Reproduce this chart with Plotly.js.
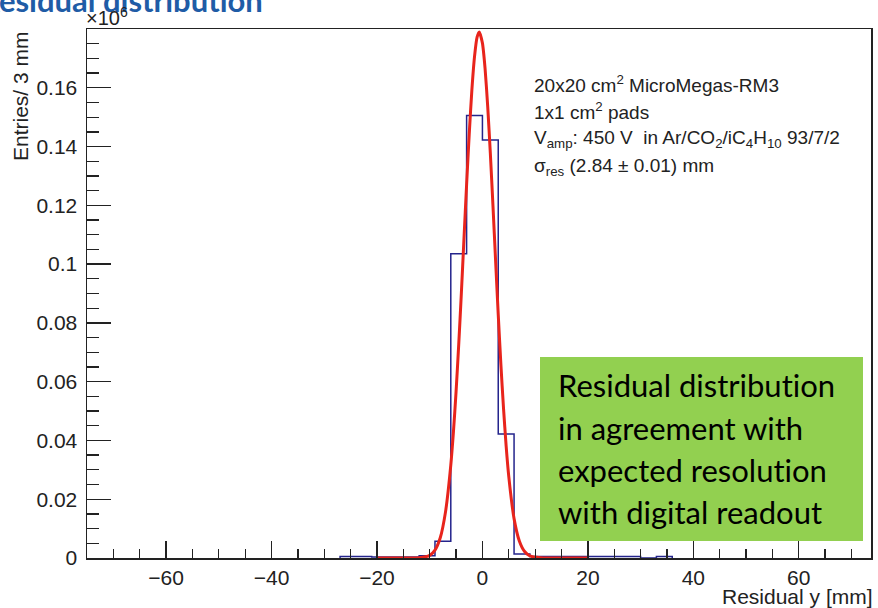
<!DOCTYPE html>
<html><head><meta charset="utf-8">
<script src="https://cdn.plot.ly/plotly-3.0.1.min.js"></script>
<style>html,body{margin:0;padding:0;background:#fff}#chart{width:878px;height:608px}svg text{font-variant-ligatures:none;font-feature-settings:"liga" 0}</style>
</head><body><div id="chart"></div>
<script>
// Histogram: 3 mm bins, first bin starts at -27 mm (values in units of 10^6 entries)
const binStart = -27;
const binWidth = 3;
const binCounts = [0.0005,0.0005,0.0003,0.0003,0.0003,0.0008,0.0057,0.1035,0.1506,0.1422,0.0422,0.0014,0.0005,0.0005,0.0005,0.0005,0.0005,0.0005,0.0005,0,0.0005];

// Gaussian fit curve
const fitX = [-20,-12,-10,-9,-8,-7,-6,-5.5,-5,-4.5,-4,-3.5,-3,-2.5,-2,-1.5,-1,-0.6,0,0.5,1,1.5,2,2.5,3,3.5,4,4.5,5,6,7,8,9,11,20];
const fitY = [0,0.0001,0.0009,0.0027,0.0069,0.0157,0.0316,0.0429,0.0566,0.0725,0.0900,0.1086,0.1271,0.1444,0.1593,0.1706,0.1773,0.1790,0.1752,0.1666,0.1537,0.1377,0.1198,0.1011,0.0828,0.0659,0.0509,0.0381,0.0277,0.0134,0.0058,0.0022,0.0007,0.0001,0];

const xTickVals = [-60,-40,-20,0,20,40,60];
const yTickVals = [0,0.02,0.04,0.06,0.08,0.1,0.12,0.14,0.16];

const infoLines = [
  "20x20 cm<sup>2</sup> MicroMegas-RM3",
  "1x1 cm<sup>2</sup> pads",
  "V<sub>amp</sub>: 450 V  in Ar/CO<sub>2</sub>/iC<sub>4</sub>H<sub>10</sub> 93/7/2",
  "σ<sub>res</sub> (2.84 ± 0.01) mm"
];
const boxLines = ["Residual distribution","in agreement with","expected resolution","with digital readout"];

// build step outline
const hx = [binStart], hy = [0];
for (let i = 0; i < binCounts.length; i++) { hx.push(binStart + i*binWidth); hy.push(binCounts[i]); }
hx.push(binStart + binCounts.length*binWidth); hy.push(binCounts[binCounts.length-1]);
hx.push(binStart + binCounts.length*binWidth); hy.push(0);

const traces = [
  {x: hx, y: hy, type:'scatter', mode:'lines', line:{shape:'hv', color:'#24248c', width:1.5}, hoverinfo:'skip'},
  {x: fitX, y: fitY, type:'scatter', mode:'lines', line:{color:'#e8241c', width:3, shape:'spline', smoothing:0.6}, hoverinfo:'skip'}
];

const F = 'Liberation Sans, Arial, Helvetica, sans-serif';
const axCol = '#222';
const annotations = [];
const infoY = [84, 111, 139, 167];
infoLines.forEach((t,i)=>annotations.push({text:t, xref:'paper', yref:'paper', x:(532-87)/784, y:(558-infoY[i])/529, xanchor:'left', yanchor:'middle', showarrow:false, font:{family:F, size:19, color:'#222'}}));
const boxY = [385, 428, 470, 512];
boxLines.forEach((t,i)=>annotations.push({text:t, xref:'paper', yref:'paper', x:(556-87)/784, y:(558-boxY[i])/529, xanchor:'left', yanchor:'middle', showarrow:false, font:{family:'Lato, Carlito, sans-serif', size:31, color:'#000'}}));
annotations.push({text:'<b>Residual distribution</b>', xref:'paper', yref:'paper', x:(265-87)/784, y:(558-21)/529, xanchor:'right', yanchor:'bottom', showarrow:false, font:{family:'Lato, sans-serif', size:31, color:'#1f5ca6'}});
annotations.push({text:'×10<sup>6</sup>', xref:'paper', yref:'paper', x:(84-87)/784, y:(558-31)/529, xanchor:'left', yanchor:'bottom', showarrow:false, font:{family:F, size:20, color:'#222'}});
annotations.push({text:'Entries/ 3 mm', textangle:-90, xref:'paper', yref:'paper', x:(20-87)/784, y:(558-29)/529, xanchor:'center', yanchor:'top', showarrow:false, font:{family:F, size:21, color:'#222'}});
annotations.push({text:'Residual y [mm]', xref:'paper', yref:'paper', x:(875-87)/784, y:(558-583)/529, xanchor:'right', yanchor:'top', showarrow:false, font:{family:F, size:21, color:'#222'}});

const layout = {
  width:878, height:608,
  margin:{l:87, r:7, t:29, b:50, pad:0},
  paper_bgcolor:'#fff', plot_bgcolor:'#fff',
  showlegend:false,
  xaxis:{range:[-75,73.7], tickvals:xTickVals, ticks:'inside', ticklen:17, tickwidth:1.3, tickcolor:axCol,
    showline:true, linecolor:axCol, linewidth:1.5, mirror:true, showgrid:false, zeroline:false,
    tickfont:{family:F, size:21, color:axCol}, ticklabelstandoff:0,
    minor:{dtick:5, tick0:0, ticks:'inside', ticklen:9, tickwidth:1.3, tickcolor:axCol, showgrid:false}},
  yaxis:{range:[0,0.18], tickvals:yTickVals, ticks:'inside', ticklen:24, tickwidth:1.3, tickcolor:axCol,
    showline:true, linecolor:axCol, linewidth:1.5, mirror:true, showgrid:false, zeroline:false,
    tickfont:{family:F, size:21, color:axCol}, ticklabelstandoff:4,
    minor:{dtick:0.005, tick0:0, ticks:'inside', ticklen:12, tickwidth:1.3, tickcolor:axCol, showgrid:false}},
  shapes:[{type:'rect', xref:'paper', yref:'paper', x0:(540-87)/784, x1:(863-87)/784, y0:(558-541)/529, y1:(558-357)/529, fillcolor:'#92d050', line:{width:0}, layer:'above'}],
  annotations: annotations
};
Plotly.newPlot('chart', traces, layout, {staticPlot:true, displayModeBar:false});
</script></body></html>
